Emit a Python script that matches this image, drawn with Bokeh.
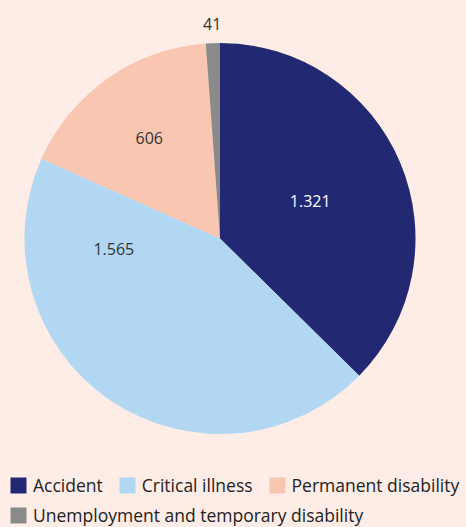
import math
from bokeh.plotting import figure
from bokeh.models import ColumnDataSource, Range1d, Legend, LegendItem
from bokeh.core.properties import value
from bokeh.embed import file_html
from bokeh.resources import INLINE

# ---- data ----
categories = ["Accident", "Critical illness", "Permanent disability",
              "Unemployment and temporary disability"]
values = [1321, 1565, 606, 41]
value_labels = ["1.321", "1.565", "606", "41"]

# ---- style / layout ----
colors = ["#222972", "#b1d7f3", "#f8c6b1", "#8a8a8a"]
label_colors = ["#ffffff", "#333333", "#333333", "#333333"]
label_radius = [0.5, 0.546, 0.63, 1.10]      # fraction of pie radius
label_angle_shift = [0, 50, 0, 0]            # degrees, clockwise
BG = "#fdede6"
FONT = "Open Sans"

W, H = 466, 527
cx, cy, R = 219.5, 289.0, 195.5

total = float(sum(values))
starts, ends, lx, ly = [], [], [], []
cum = 0.0
for i, v in enumerate(values):
    a0 = cum / total
    a1 = (cum + v) / total
    cum += v
    # bokeh angles: counter-clockwise from +x; pie goes clockwise from top
    starts.append(math.pi / 2 - 2 * math.pi * a1)
    ends.append(math.pi / 2 - 2 * math.pi * a0)
    mid = (a0 + a1) / 2 * 360 + label_angle_shift[i]
    th = math.radians(mid)
    lx.append(cx + label_radius[i] * R * math.sin(th))
    ly.append(cy + label_radius[i] * R * math.cos(th))

src = ColumnDataSource(dict(cat=categories, val=values, start=starts, end=ends,
                            color=colors))
lab_src = ColumnDataSource(dict(x=lx, y=ly, text=value_labels, tc=label_colors))

p = figure(width=W, height=H, output_backend="svg", toolbar_location=None,
           x_range=Range1d(0, W), y_range=Range1d(0, H), min_border=0,
           background_fill_color=BG, border_fill_color=BG, outline_line_color=None)
p.axis.visible = False
p.grid.visible = False

r = p.wedge(x=cx, y=cy, radius=R, start_angle="start", end_angle="end",
            fill_color="color", line_color=None, source=src)

p.text(x="x", y="y", text="text", text_color="tc", source=lab_src,
       text_font=value(FONT), text_font_size="16px",
       text_align="center", text_baseline="middle")

items = [LegendItem(label=c, renderers=[r], index=i) for i, c in enumerate(categories)]

def make_legend(its, loc):
    return Legend(items=its, orientation="horizontal", location=loc,
                  glyph_width=20, glyph_height=20, label_standoff=5, spacing=14,
                  padding=0, margin=0, background_fill_alpha=0,
                  border_line_color=None, label_text_font=FONT,
                  label_text_font_size="17.5px", label_text_color="#222222")

p.add_layout(make_legend(items[:3], (8, 30)))
p.add_layout(make_legend(items[3:], (8, 0)))

html = file_html(p, INLINE)
html = html.replace("<head>", "<head><style>body{background:%s;}</style>" % BG, 1)
open("out.html", "w").write(html)
